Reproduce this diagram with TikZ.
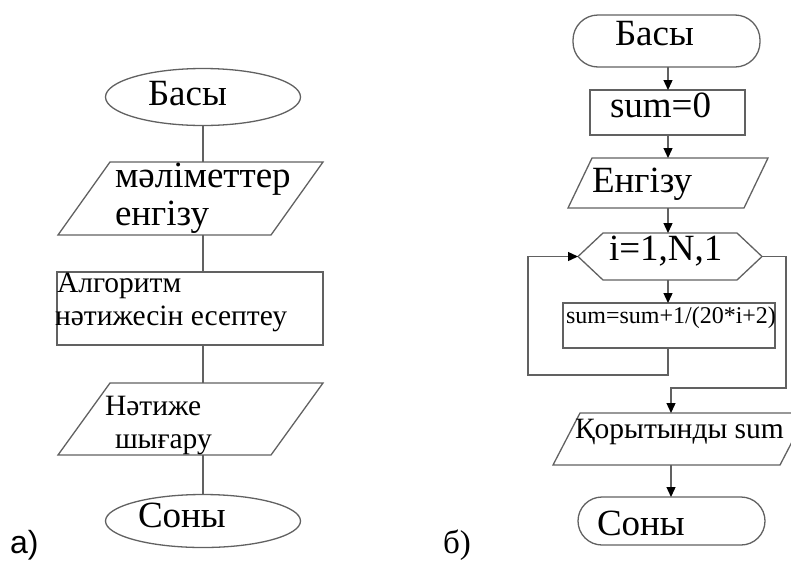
\documentclass[tikz,border=0pt]{standalone}
\usepackage{fontspec}
\setmainfont{Liberation Serif}
\newfontfamily\labelsans{Liberation Sans}
\usetikzlibrary{shapes.geometric,arrows.meta}
\begin{document}
\begin{tikzpicture}[x=1pt,y=-1pt,
  frame/.style={draw=black!62, line width=1.3pt},
  box/.style={rectangle, draw=none, inner sep=0pt, outer sep=0pt},
  rectbox/.style={rectangle, frame, inner sep=0pt, outer sep=0pt},
  oval/.style={ellipse, frame, inner sep=0pt, outer sep=0pt},
  stadium/.style={rectangle, rounded corners=25pt, frame, inner sep=0pt, outer sep=0pt},
  conn/.style={draw=black!62, line width=1.3pt},
  arr/.style={conn, -{Triangle[length=10pt,width=9pt,color=black]}},
  txt/.style={inner sep=0pt, outer sep=0pt, anchor=base west},
  big/.style={font=\fontsize{37}{40}\selectfont},
  mid/.style={font=\fontsize{29.5}{32}\selectfont},
  small/.style={font=\fontsize{24}{26}\selectfont}
]
\useasboundingbox (0,0) rectangle (791,560);
\clip (0,0) rectangle (791,560);

% ---------- a) ----------
\node[oval, minimum width=195pt, minimum height=57pt] (a1) at (203,97) {};
\node[txt,big] (a1t) at (148,105) {Басы};

\node[box, minimum width=265pt, minimum height=73pt] (a2) at (190.5,198.5) {};
\draw[frame] ([xshift=52pt]a2.north west) -- (a2.north east) -- ([xshift=-52pt]a2.south east) -- (a2.south west) -- cycle;
\node[txt,big] (a2t1) at (115,187) {мәліметтер};
\node[txt,big] (a2t2) at (115,225) {енгізу};

\node[rectbox, minimum width=266pt, minimum height=73pt] (a3) at (190,308.5) {};
\node[txt,mid] (a3t1) at (57,292) {Алгоритм};
\node[txt,mid] (a3t2) at (55,325) {нәтижесін есептеу};

\node[box, minimum width=265pt, minimum height=72pt] (a4) at (190.5,419) {};
\draw[frame] ([xshift=52pt]a4.north west) -- (a4.north east) -- ([xshift=-52pt]a4.south east) -- (a4.south west) -- cycle;
\node[txt,mid] (a4t1) at (105,415) {Нәтиже};
\node[txt,mid] (a4t2) at (115,448) {шығару};

\node[oval, minimum width=195pt, minimum height=53pt] (a5) at (203,521) {};
\node[txt,big] (a5t) at (138,527) {Соны};

\node[txt, font=\labelsans\fontsize{32}{34}\selectfont] (la) at (10,553) {а)};

\draw[conn] (a1.south) -- (a2.north -| a1.south);
\draw[conn] (a2.south -| a1.south) -- (a3.north -| a1.south);
\draw[conn] (a3.south -| a1.south) -- (a4.north -| a1.south);
\draw[conn] (a4.south -| a1.south) -- (a5.north);

% ---------- б) ----------
\coordinate (sp) at (668,0);
\coordinate (sq) at (671,0);

\node[stadium, minimum width=187pt, minimum height=52pt] (b1) at (666.5,41) {};
\node[txt,big] (b1t) at (615,45) {Басы};

\node[rectbox, minimum width=155pt, minimum height=45pt] (b2) at (667.5,112.5) {};
\node[txt,big] (b2t) at (610,117) {sum=0};

\node[box, minimum width=200pt, minimum height=50pt] (b3) at (668,183) {};
\draw[frame] ([xshift=24pt]b3.north west) -- (b3.north east) -- ([xshift=-24pt]b3.south east) -- (b3.south west) -- cycle;
\node[txt,big] (b3t) at (592,192) {Енгізу};

\node[box, minimum width=184pt, minimum height=47pt] (b4) at (670,256.5) {};
\draw[frame] (b4.west) -- ([xshift=25pt]b4.north west) -- ([xshift=-25pt]b4.north east) -- (b4.east) -- ([xshift=-25pt]b4.south east) -- ([xshift=25pt]b4.south west) -- cycle;
\node[txt,big] (b4t) at (609,260) {i=1,N,1};

\node[rectbox, minimum width=212pt, minimum height=45pt] (b5) at (669,325.5) {};
\node[txt,small] (b5t) at (566,323) {sum=sum+1/(20*i+2)};

\node[box, minimum width=254pt, minimum height=52pt] (b6) at (680,439) {};
\draw[frame] ([xshift=27pt]b6.north west) -- (b6.north east) -- ([xshift=-27pt]b6.south east) -- (b6.south west) -- cycle;
\node[txt,mid] (b6t) at (575,438) {Қорытынды sum};

\node[stadium, rounded corners=24pt, minimum width=187pt, minimum height=48pt] (b7) at (671.5,521) {};
\node[txt,big] (b7t) at (597,535) {Соны};

\node[txt, font=\fontsize{33}{36}\selectfont] (lb) at (443,553) {б)};

\coordinate (loopc) at (528,375);
\coordinate (exitc) at (786,388);

\draw[arr] (b1.south -| sp) -- (b2.north -| sp);
\draw[arr] (b2.south -| sp) -- (b3.north -| sp);
\draw[arr] (b3.south -| sp) -- (b4.north -| sp);
\draw[arr] (b4.south -| sp) -- (b5.north -| sp);
\draw[arr] (b5.south -| sp) |- (loopc) |- (b4.west);
\draw[arr] (b4.east) -| (exitc) -| (b6.north -| sq);
\draw[arr] (b6.south -| sq) -- (b7.north -| sq);
\end{tikzpicture}
\end{document}
